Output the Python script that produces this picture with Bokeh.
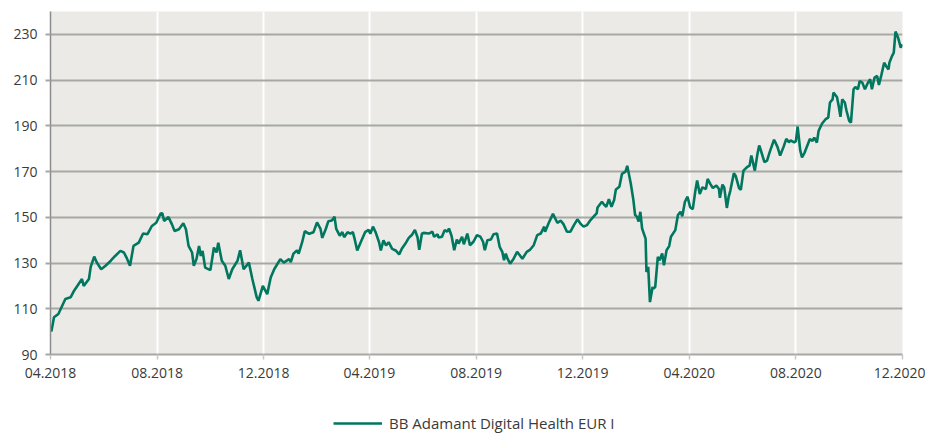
import pandas as pd
from bokeh.plotting import figure
from bokeh.layouts import column
from bokeh.models import (Range1d, FixedTicker, Legend, LegendItem, ColumnDataSource,
                          DatetimeTickFormatter)
from bokeh.embed import file_html
from bokeh.resources import INLINE

series_name = "BB Adamant Digital Health EUR I"
start_date = "2018-04-01"
end_date = "2020-12-01"

# days since start_date
day_offsets = [
    1, 4, 9, 17, 23, 27, 36, 38, 44, 46, 50, 53, 58, 63, 69, 74, 80, 84, 87, 91,
    95, 101, 106, 111, 116, 121, 126, 128, 130, 135, 139, 142, 147, 152, 155, 158, 162, 164, 167, 170,
    172, 174, 177, 183, 187, 190, 192, 196, 200, 204, 208, 214, 217, 221, 227, 231, 236, 238, 243, 248,
    252, 256, 263, 267, 273,
    275, 278, 282, 284, 288, 291, 296, 301, 305, 309, 311, 315, 318, 322, 325, 327, 331, 334, 336, 340,
    343, 346, 348, 351, 355, 360, 364, 366, 369, 372, 376, 378, 381, 384, 387, 391, 395, 399, 402, 406,
    410, 414, 417, 420, 422, 425,
    427, 433, 437, 439, 443, 444, 448, 451, 454, 456, 459, 462, 465, 467, 471, 473, 477, 480, 484, 488,
    492, 495, 497, 500, 504, 507, 511, 514, 517, 519, 521, 523, 526, 530, 534, 537, 540, 545, 549, 553,
    557, 561, 565, 566, 570, 575, 580,
    584, 587, 591, 595, 599, 603, 607, 610, 614, 618, 622, 625, 626, 631, 633, 636, 639, 642, 645, 647,
    651, 654, 658, 660, 664, 667, 669, 671, 673, 675, 677, 681, 682, 684, 686, 689, 690, 692, 695, 697,
    700, 702, 705, 708, 710, 715, 718, 721, 723, 726, 729,
    732, 735, 738, 740, 743, 746, 750, 752, 755, 758, 762, 765, 766, 769, 771, 774, 776, 778, 782, 784,
    788, 790, 793, 797, 800, 802, 806, 809, 811, 813, 817, 820, 823, 828, 830, 832, 835, 839, 842, 845,
    847, 851, 853, 855, 858,
    860, 863, 866, 869, 872, 874, 877, 879, 883, 887, 890, 892, 895, 896, 900, 902, 904, 906, 909, 911,
    914, 916, 919, 921, 924, 926, 929, 932, 935, 938, 940, 943, 946, 948, 951, 954, 957, 959, 960, 963,
    965, 967, 970, 973, 975,
]

values = [
    100, 106.3, 107.7, 114.3, 115, 117.9, 123, 120, 123, 128.3, 132.8, 130.2, 127.3, 128.8, 131, 133.1, 135.3, 134.6, 132.4, 128.8,
    137.5, 138.9, 142.9, 142.6, 146.2, 147.6, 151.6, 151.7, 148.4, 150.1, 146.9, 144, 144.8, 147.4, 144.8, 137.5, 134.6, 128.8, 131.7, 137.5,
    133.1, 135.3, 128, 126.9, 136.8, 134.6, 138.9, 131, 128.8, 123, 127.3, 131, 135.6, 127.3, 130.2, 123, 115, 113.5, 120, 116.4,
    123.7, 127.3, 131.7, 130.2, 131.7,
    130.4, 134.1, 135.5, 134.1, 139.1, 143.9, 142.8, 143.5, 147.8, 144.9, 141, 144.9, 148.3, 148.6, 150.3, 144.9, 142, 143.5, 141.3, 143.5,
    142.8, 143.5, 140.6, 135.5, 139.1, 143.5, 144.5, 142.8, 145.9, 143.5, 139.1, 135.5, 139.9, 137.7, 139.1, 136.2, 135.5, 133.8, 136.2, 138.4,
    141, 142.5, 144.5, 141.3, 135.8, 142.8,
    143.2, 142.9, 143.7, 141.5, 142.6, 141.2, 141.5, 144.4, 143.7, 145.1, 141.8, 135.6, 140.3, 138.5, 141.5, 138.2, 142.9, 137.8, 139.3, 142.2,
    141.5, 139.3, 135.6, 140, 140.3, 142.6, 142.9, 137.1, 134.9, 131.2, 134.1, 131.9, 129.7, 131.9, 134.9, 133.4, 131.9, 134.9, 135.9, 137.8,
    142.2, 142.9, 145.9, 143.7, 147.4, 151.5, 147.6,
    148.5, 147, 143.7, 143.7, 146.6, 149.1, 147, 145.9, 146.6, 148.8, 150.5, 151.7, 154.3, 156.8, 155.8, 154.6, 157.9, 154.6, 157.6, 162.2,
    163.4, 169, 170, 172.5, 164.9, 157.6, 151, 150.3, 148.1, 152.4, 145.1, 140.7, 126.1, 128.3, 112.9, 119.5, 118.8, 119.5, 132.7, 131.2,
    134.2, 129, 135.6, 137.4, 141.5, 144.4, 151, 152.4, 150.5, 156.8, 159,
    154.4, 153.6, 161.7, 166.1, 160.2, 163.1, 162.4, 166.8, 164.6, 162.8, 163.9, 162.4, 158.5, 164.3, 163.1, 154.1, 158.8, 161.7, 169.3, 168.2,
    162.8, 162, 170.4, 171.9, 172.6, 177, 170.4, 177.7, 181.4, 179.2, 174.1, 174.8, 178.5, 183.9, 182.4, 180.7, 177, 180.9, 184.3, 182.8,
    183.6, 182.8, 183.3, 189.7, 179.2,
    176.2, 178.3, 181.3, 184.2, 183.4, 184.9, 182.7, 187.8, 191, 192.9, 193.6, 200.2, 201.6, 204.5, 202.6, 198.7, 193.9, 201.6, 200.2, 196.5,
    192.2, 191.4, 206, 207, 206, 209.6, 208.9, 206, 208.5, 210.4, 206, 211.1, 211.8, 207.9, 212.5, 217.6, 215.7, 214.7, 217.6, 220.5,
    222, 231.2, 228.5, 224.2, 225.6,
]

tick_dates = ["2018-04-01", "2018-08-01", "2018-12-01", "2019-04-01", "2019-08-01",
              "2019-12-01", "2020-04-01", "2020-08-01", "2020-12-01"]
tick_labels = ["04.2018", "08.2018", "12.2018", "04.2019", "08.2019",
               "12.2019", "04.2020", "08.2020", "12.2020"]
y_ticks = [90, 110, 130, 150, 170, 190, 210, 230]


def to_ms(s):
    return int(pd.Timestamp(s).value // 10**6)


dates = pd.Timestamp(start_date) + pd.to_timedelta(day_offsets, unit="D")
source = ColumnDataSource(data=dict(date=dates, value=values))

LINE = "#00775e"
LINE_W = 2.6
GRID = "#a8a7a4"
TEXT = "#3a3a3a"
FONT = "Open Sans"
W = 925

# ---------------- main chart ----------------
p = figure(width=W, height=395, x_axis_type="datetime",
           x_range=Range1d(to_ms(start_date), to_ms(end_date)),
           y_range=Range1d(90, 240),
           output_backend="svg", toolbar_location=None,
           min_border_left=50, min_border_right=23, min_border_top=11, min_border_bottom=41)
p.background_fill_color = "#ebeae7"
p.border_fill_color = "white"
p.outline_line_color = None

p.line("date", "value", source=source, line_color=LINE, line_width=LINE_W)

tick_ms = [to_ms(d) for d in tick_dates]
p.xaxis.ticker = FixedTicker(ticks=tick_ms)
p.xaxis.formatter = DatetimeTickFormatter(days="%m.%Y", months="%m.%Y", years="%m.%Y")
p.xaxis.major_label_overrides = {t: lab for t, lab in zip(tick_ms, tick_labels)}
p.yaxis.ticker = FixedTicker(ticks=y_ticks)

p.xgrid.grid_line_color = "white"
p.xgrid.grid_line_width = 2
p.ygrid.grid_line_color = GRID
p.ygrid.grid_line_width = 2

for ax in (p.xaxis[0], p.yaxis[0]):
    ax.major_label_text_font = FONT
    ax.major_label_text_font_size = "14px"
    ax.major_label_text_color = TEXT
    ax.minor_tick_line_color = None
    ax.major_tick_in = 0
    ax.major_tick_out = 5
    ax.major_label_standoff = 8

p.yaxis.axis_line_color = "#8c8c8c"
p.yaxis.axis_line_width = 1.5
p.yaxis.major_tick_line_color = GRID
p.yaxis.major_tick_line_width = 2
p.xaxis.axis_line_color = GRID
p.xaxis.axis_line_width = 2
p.xaxis.major_tick_line_color = "#c8c8c8"
p.xaxis.major_tick_line_width = 1.5

# ---------------- legend strip (same series, drawn outside its view range) ----------------
leg = figure(width=W, height=38, x_range=Range1d(0, 1), y_range=Range1d(0, 1),
             output_backend="svg", toolbar_location=None,
             x_axis_location=None, y_axis_location=None,
             min_border_left=0, min_border_right=0, min_border_top=0, min_border_bottom=0)
leg.outline_line_color = None
leg.xgrid.visible = False
leg.ygrid.visible = False
leg.background_fill_color = "white"
leg.border_fill_color = "white"
key = leg.line("date", "value", source=source, line_color=LINE, line_width=LINE_W)

legend = Legend(items=[LegendItem(label=series_name, renderers=[key])],
                location=(283, 0), orientation="horizontal",
                padding=0, margin=0, spacing=0,
                glyph_width=49, glyph_height=18, label_height=18,
                label_standoff=7, label_text_font=FONT, label_text_font_size="15px",
                label_text_color=TEXT, border_line_color=None, background_fill_alpha=0)
leg.add_layout(legend, "center")

layout = column(p, leg, spacing=0)
open("out.html", "w").write(file_html(layout, INLINE))
